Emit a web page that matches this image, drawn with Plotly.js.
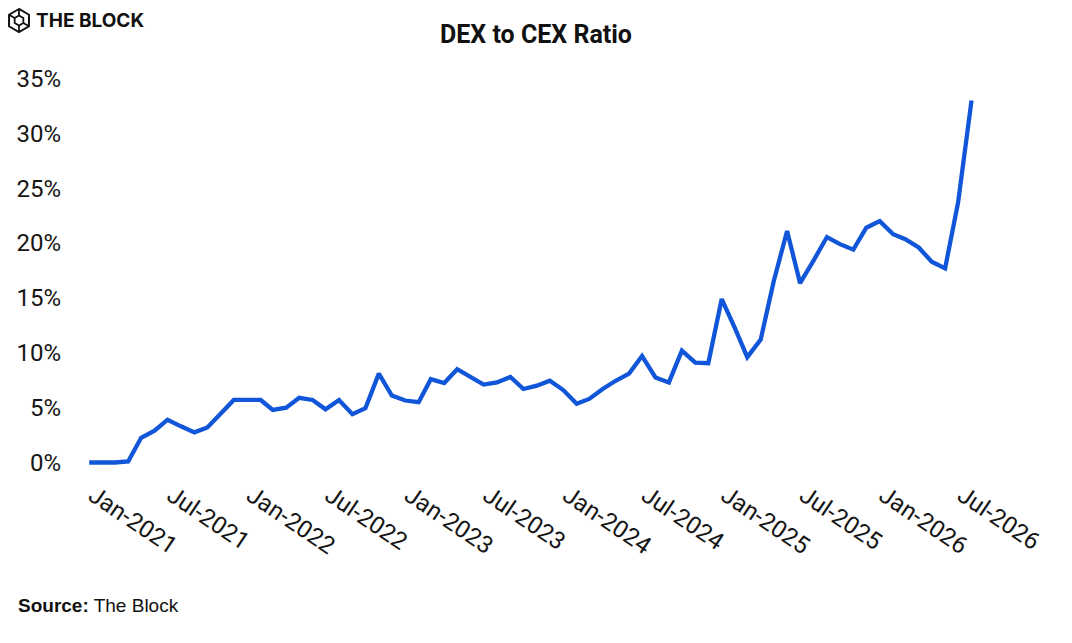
<!DOCTYPE html>
<html>
<head>
<meta charset="utf-8">
<script src="https://cdn.plot.ly/plotly-3.0.1.min.js"></script>
<style>
html,body{margin:0;padding:0;background:#fff;}
#chart{width:1072px;height:643px;}
</style>
</head>
<body>
<div id="chart"></div>
<script>
const months = [
 '2021-01-01','2021-02-01','2021-03-01','2021-04-01','2021-05-01','2021-06-01','2021-07-01','2021-08-01','2021-09-01','2021-10-01','2021-11-01','2021-12-01',
 '2022-01-01','2022-02-01','2022-03-01','2022-04-01','2022-05-01','2022-06-01','2022-07-01','2022-08-01','2022-09-01','2022-10-01','2022-11-01','2022-12-01',
 '2023-01-01','2023-02-01','2023-03-01','2023-04-01','2023-05-01','2023-06-01','2023-07-01','2023-08-01','2023-09-01','2023-10-01','2023-11-01','2023-12-01',
 '2024-01-01','2024-02-01','2024-03-01','2024-04-01','2024-05-01','2024-06-01','2024-07-01','2024-08-01','2024-09-01','2024-10-01','2024-11-01','2024-12-01',
 '2025-01-01','2025-02-01','2025-03-01','2025-04-01','2025-05-01','2025-06-01','2025-07-01','2025-08-01','2025-09-01','2025-10-01','2025-11-01','2025-12-01',
 '2026-01-01','2026-02-01','2026-03-01','2026-04-01','2026-05-01','2026-06-01','2026-07-01','2026-08-01'
];
const dexToCexRatio = [
 0, 0, 0, 0.1, 2.25, 2.9, 3.9, 3.3, 2.75, 3.2, 4.45, 5.7,
 5.7, 5.7, 4.8, 5.0, 5.9, 5.7, 4.85, 5.7, 4.4, 4.95, 8.1, 6.1,
 5.65, 5.5, 7.6, 7.25, 8.5, 7.75, 7.1, 7.3, 7.8, 6.7, 7.0, 7.45,
 6.6, 5.35, 5.8, 6.7, 7.45, 8.1, 9.7, 7.75, 7.3, 10.2, 9.1, 9.05,
 14.9, 12.2, 9.6, 11.2, 16.5, 21.1, 16.35, 18.4, 20.55, 19.9, 19.4, 21.4,
 22.0, 20.8, 20.35, 19.6, 18.3, 17.7, 23.7, 33.0
];
const yTickValues = [0, 5, 10, 15, 20, 25, 30, 35];
const yTickLabels = ['0%', '5%', '10%', '15%', '20%', '25%', '30%', '35%'];
const chartTitle = 'DEX to CEX Ratio';
const sourceText = '<b>Source:</b> The Block';
const brandText = 'THE BLOCK';

const W = 1072, H = 643;
const M = {l: 84, r: 81, t: 73, b: 175};
const pw = W - M.l - M.r, ph = H - M.t - M.b;
const px = x => (x - M.l) / pw;
const py = y => (H - M.b - y) / ph;

// logo icon (hexagon cube outline) as shapes
function hexPath(cx, cy, r) {
  let d = '';
  for (let k = 0; k < 6; k++) {
    const a = Math.PI / 180 * (90 + 60 * k);
    const X = px(cx + r * Math.cos(a)), Y = py(cy - r * Math.sin(a));
    d += (k === 0 ? 'M' : 'L') + X + ',' + Y + ' ';
  }
  return d + 'Z';
}
const icx = 19, icy = 20.5;
const shapes = [
  {type: 'path', xref: 'paper', yref: 'paper', path: hexPath(icx, icy, 11.5), line: {color: '#111', width: 2}},
  {type: 'path', xref: 'paper', yref: 'paper', path: hexPath(icx, icy, 5), line: {color: '#111', width: 1.8}},
  {type: 'line', xref: 'paper', yref: 'paper', x0: px(icx), y0: py(icy - 11.5), x1: px(icx), y1: py(icy - 5), line: {color: '#111', width: 1.8}},
  {type: 'line', xref: 'paper', yref: 'paper', x0: px(icx), y0: py(icy + 11.5), x1: px(icx), y1: py(icy + 5), line: {color: '#111', width: 1.8}},
  {type: 'line', xref: 'paper', yref: 'paper', x0: px(icx - 10), y0: py(icy - 5.75), x1: px(icx - 4.3), y1: py(icy - 2.5), line: {color: '#111', width: 1.8}},
  {type: 'line', xref: 'paper', yref: 'paper', x0: px(icx + 10), y0: py(icy + 5.75), x1: px(icx + 4.3), y1: py(icy + 2.5), line: {color: '#111', width: 1.8}}
];

const trace = {
  x: months,
  y: dexToCexRatio,
  type: 'scatter',
  mode: 'lines',
  line: {color: '#1155d8', width: 4.3, shape: 'linear'},
  hoverinfo: 'x+y'
};

const layout = {
  width: W, height: H,
  margin: M,
  paper_bgcolor: '#fff', plot_bgcolor: '#fff',
  showlegend: false,
  title: {
    text: '<b>' + chartTitle + '</b>',
    x: 0.5, xref: 'container', xanchor: 'center',
    y: 1 - 34 / H, yref: 'container', yanchor: 'middle',
    font: {family: 'Roboto', size: 25, color: '#111'}
  },
  xaxis: {
    type: 'date',
    range: ['2020-12-20', '2026-09-15'],
    tick0: '2021-01-11', dtick: 'M6', tickformat: '%b-%Y',
    tickangle: 34,
    showgrid: false, zeroline: false, showline: false,
    ticks: '', ticklabelstandoff: 8,
    tickfont: {family: 'Roboto', size: 24, color: '#151515'}
  },
  yaxis: {
    range: [-0.5, 35.5],
    tickvals: yTickValues, ticktext: yTickLabels,
    showgrid: false, zeroline: false, showline: false,
    ticks: '', ticklabelstandoff: 22,
    tickfont: {family: 'Roboto', size: 24, color: '#151515'}
  },
  shapes: shapes,
  annotations: [
    {text: '<b>' + brandText + '</b>', xref: 'paper', yref: 'paper', x: px(34), y: py(20.5),
     xanchor: 'left', yanchor: 'middle', showarrow: false,
     font: {family: 'Inter', size: 19, color: '#111'}},
    {text: sourceText, xref: 'paper', yref: 'paper', x: px(16), y: py(605),
     xanchor: 'left', yanchor: 'middle', showarrow: false,
     font: {family: 'Liberation Sans', size: 19, color: '#111'}}
  ]
};

Plotly.newPlot('chart', [trace], layout, {displayModeBar: false, staticPlot: true});
</script>
</body>
</html>
